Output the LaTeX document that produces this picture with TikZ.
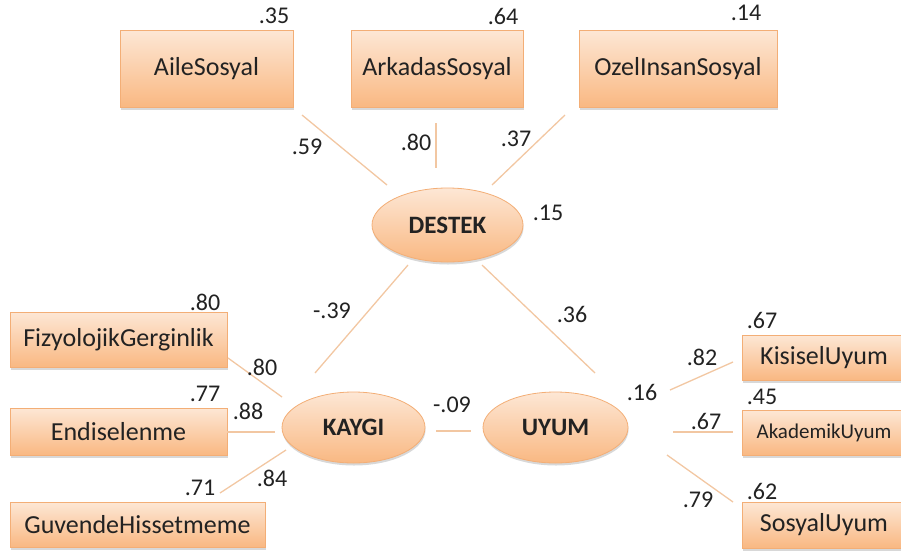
\documentclass[tikz,border=0pt]{standalone}
\usepackage{fontspec}
\setmainfont{Carlito}
\usetikzlibrary{shapes.geometric,shadows}

\definecolor{boxtop}{HTML}{FDE7D5}
\definecolor{boxbot}{HTML}{F9B882}
\definecolor{boxline}{HTML}{F3AE76}
\definecolor{pathline}{HTML}{F2C7A2}
\definecolor{ink}{HTML}{222222}

\tikzset{
  soft/.style={drop shadow={shadow xshift=0.5pt, shadow yshift=-2.5pt, fill=black!70, opacity=0.22}},
  obs/.style={rectangle, draw=boxline, line width=0.8pt, top color=boxtop, bottom color=boxbot,
    soft, inner sep=0pt, text=ink, font=\fontsize{26}{30}\selectfont},
  latent/.style={ellipse, draw=boxline, line width=0.8pt, top color=boxtop, bottom color=boxbot,
    soft, inner sep=0pt, text=ink, font=\fontsize{25}{30}\selectfont\bfseries},
  coef/.style={text=ink, inner sep=0pt, font=\fontsize{24}{28}\selectfont},
  link/.style={draw=pathline, line width=1.3pt}
}

\begin{document}
\begin{tikzpicture}[x=1pt,y=-1pt]
\useasboundingbox (0,0) rectangle (901,554);

% support indicators
\node[obs, minimum width=173, minimum height=77] (aile)   at (206.5,68.5) {AileSosyal};
\node[obs, minimum width=172, minimum height=77] (arkad)  at (437,68.5)   {ArkadasSosyal};
\node[obs, minimum width=198, minimum height=77] (ozel)   at (678,68.5)   {OzelInsanSosyal};

% anxiety indicators
\node[obs, minimum width=217, minimum height=55] (fizyo)  at (118.5,339.5) {FizyolojikGerginlik};
\node[obs, minimum width=217, minimum height=47] (endise) at (118.5,431.5) {Endiselenme};
\node[obs, minimum width=255, minimum height=45] (guven)  at (137.5,524.5) {GuvendeHissetmeme};

% adjustment indicators
\node[obs, minimum width=164, minimum height=45] (kisi)   at (824,357.5) {KisiselUyum};
\node[obs, minimum width=164, minimum height=45, font=\fontsize{21}{25}\selectfont] (akad) at (824,432.5) {AkademikUyum};
\node[obs, minimum width=164, minimum height=46] (sosy)   at (824,525)   {SosyalUyum};

% latent variables
\node[latent, minimum width=151, minimum height=74] (destek) at (447.5,225)   {DESTEK};
\node[latent, minimum width=143, minimum height=71] (kaygi)  at (353.5,427.5) {KAYGI};
\node[latent, minimum width=145, minimum height=71] (uyum)   at (555.5,427.5) {UYUM};

% path end points
\coordinate (p1a) at (302,115); \coordinate (p1b) at (387,185);
\coordinate (p2a) at (436,123); \coordinate (p2b) at (436,168);
\coordinate (p3a) at (565,115); \coordinate (p3b) at (492,185);
\coordinate (p4a) at (408,265); \coordinate (p4b) at (315,373);
\coordinate (p5a) at (482,265); \coordinate (p5b) at (595,373);
\coordinate (p6a) at (228,358); \coordinate (p6b) at (282,397);
\coordinate (p7a) at (227,432); \coordinate (p7b) at (275,432);
\coordinate (p8a) at (220,493); \coordinate (p8b) at (286,450);
\coordinate (p9a) at (436,431); \coordinate (p9b) at (471,431);
\coordinate (p10a) at (670,390); \coordinate (p10b) at (733,362);
\coordinate (p11a) at (673,432); \coordinate (p11b) at (733,432);
\coordinate (p12a) at (667,455); \coordinate (p12b) at (733,502);

\foreach \k in {1,...,12} { \draw[link] (p\k a) -- (p\k b); }

% explained variances
\node[coef] (r1) at (274,16)  {.35};
\node[coef] (r2) at (503,16)  {.64};
\node[coef] (r3) at (746,13)  {.14};
\node[coef] (r4) at (548,213) {.15};
\node[coef] (r5) at (205,302) {.80};
\node[coef] (r6) at (205,394) {.77};
\node[coef] (r7) at (200,488) {.71};
\node[coef] (r8) at (642,392) {.16};
\node[coef] (r9) at (762,320) {.67};
\node[coef] (r10) at (762,397) {.45};
\node[coef] (r11) at (762,491) {.62};

% path coefficients
\node[coef] (c1) at (307,147) {.59};
\node[coef] (c2) at (416,142) {.80};
\node[coef] (c3) at (516,139) {.37};
\node[coef] (c4) at (332,311) {-.39};
\node[coef] (c5) at (572,314) {.36};
\node[coef] (c6) at (262,367) {.80};
\node[coef] (c7) at (248,411) {.88};
\node[coef] (c8) at (272,478) {.84};
\node[coef] (c9) at (452,405) {-.09};
\node[coef] (c10) at (702,357) {.82};
\node[coef] (c11) at (706,421) {.67};
\node[coef] (c12) at (698,500) {.79};
\end{tikzpicture}
\end{document}
